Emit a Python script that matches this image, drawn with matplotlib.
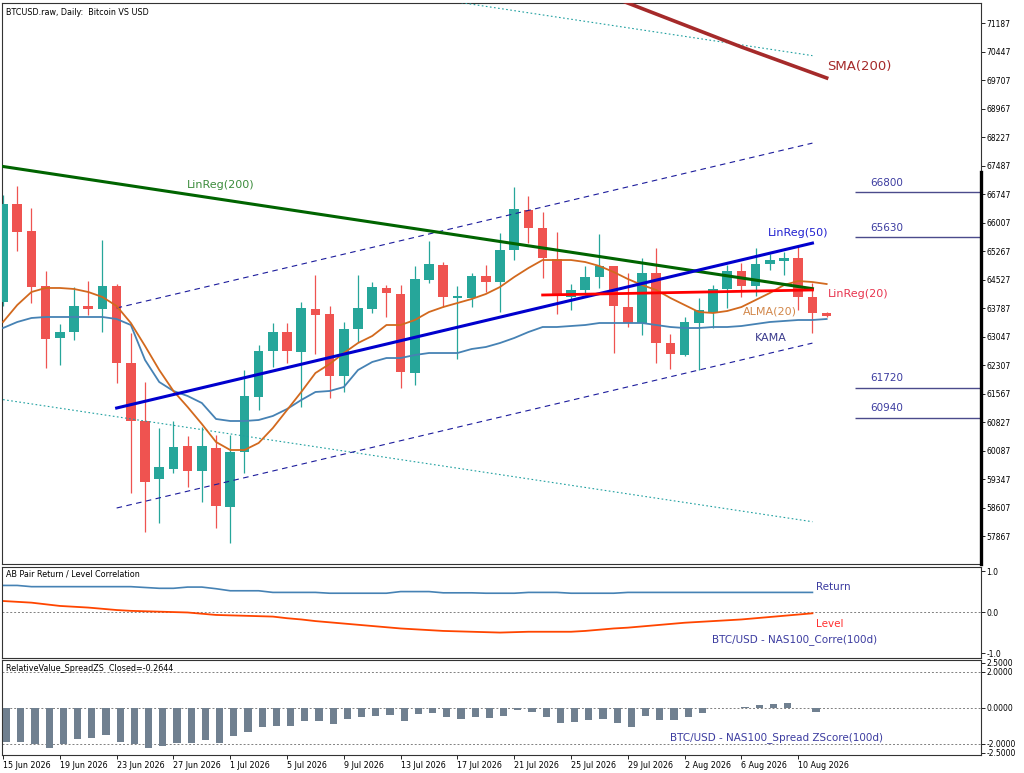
import matplotlib.pyplot as plt
import numpy as np

# daily candles, 15 Jun 2026 .. 12 Aug 2026
opens = [63944, 66488, 65787, 64359, 63010, 63165, 63840, 63762, 64359, 62360,
         60855, 59349, 59609, 60206, 59557, 60154, 58622, 60050, 61478, 62672,
         63165, 62646, 63762, 63633, 62023, 63243, 63762, 64308, 64152, 62101,
         64515, 64904, 64048, 64048, 64619, 64463, 65294, 66332, 65865, 65060,
         64074, 64256, 64593, 64878, 63814, 63399, 64697, 62880, 62568, 63399,
         63685, 64282, 64749, 64359, 64930, 65008, 65086, 64074, 63659]
highs = [66720, 66955, 66384, 64749, 63373, 64334, 64489, 65554, 64411, 63140,
         61867, 60673, 60855, 60466, 60699, 60492, 60492, 62179, 62828, 63399,
         63399, 63944, 64645, 63840, 63425, 64645, 64463, 64385, 64385, 64878,
         65528, 64982, 64359, 64697, 64904, 65735, 66930, 66696, 66280, 65761,
         64411, 64878, 65709, 64878, 64697, 65086, 65346, 63114, 63555, 64048,
         64385, 64904, 64956, 65346, 65190, 65242, 65398, 64437, 63685]
lows = [63840, 65268, 63918, 62231, 62300, 62958, 63607, 63165, 61841, 58986,
        57973, 58207, 59505, 59141, 58752, 58077, 57688, 59505, 61140, 62257,
        62360, 61218, 62594, 61452, 61608, 62906, 63659, 63555, 61711, 61789,
        64437, 63814, 62464, 63814, 64204, 63685, 65034, 65476, 64567, 63633,
        63737, 64126, 64308, 62620, 63295, 63088, 62360, 62205, 62540, 62179,
        63269, 63788, 64074, 64100, 64775, 64645, 63737, 63140, 63555]
closes = [66488, 65761, 64334, 62984, 63165, 63840, 63762, 64359, 62360, 60855,
          59271, 59661, 60180, 59557, 60206, 58648, 60050, 61504, 62672, 63165,
          62672, 63788, 63607, 62023, 63243, 63788, 64334, 64178, 62127, 64541,
          64930, 64074, 64100, 64619, 64463, 65294, 66358, 65865, 65086, 64126,
          64256, 64593, 64878, 63840, 63399, 64697, 62880, 62594, 63425, 63737,
          64282, 64749, 64359, 64930, 65034, 65086, 64074, 63659, 63581]

alma20 = [63425, 63866, 64204, 64308, 64308, 64282, 64204, 64074, 63840, 63399,
          62802, 62179, 61634, 61218, 60777, 60310, 60102, 60102, 60284, 60673,
          61140, 61608, 62101, 62335, 62620, 62880, 63062, 63347, 63347, 63477,
          63685, 63814, 63918, 64022, 64152, 64334, 64593, 64827, 65034, 65034,
          65034, 64982, 64878, 64723, 64541, 64385, 64256, 64048, 63866, 63685,
          63659, 63711, 63814, 63996, 64178, 64385, 64489, 64463, 64411]
kama = [63269, 63425, 63529, 63555, 63555, 63555, 63555, 63555, 63503, 63347,
        62438, 61867, 61634, 61504, 61322, 60907, 60855, 60855, 60881, 60985,
        61166, 61400, 61608, 61634, 61737, 62179, 62387, 62490, 62490, 62568,
        62620, 62620, 62620, 62724, 62776, 62880, 63010, 63165, 63295, 63295,
        63321, 63347, 63399, 63399, 63399, 63399, 63347, 63295, 63269, 63269,
        63295, 63295, 63321, 63373, 63425, 63451, 63477, 63477, 63503]

# straight indicator lines: candle index span and end values
linreg200_idx = [0, 57]
linreg200 = [67462, 64290]
linreg200_upper = [73510, 70340]
linreg200_lower = [61410, 58240]
linreg50_idx = [8, 57]
linreg50 = [61192, 65473]
linreg50_upper = [63788, 68069]
linreg50_lower = [58596, 62877]
linreg20_idx = [38, 57]
linreg20 = [64126, 64256]
sma200_idx = [42, 52, 58]
sma200 = [71990, 70564, 69760]

levels = [66800, 65630, 61720, 60940]

# lower panels (values up to 11 Aug)
corr_return = [0.65, 0.65, 0.62, 0.62, 0.62, 0.62, 0.62, 0.62, 0.62, 0.62,
               0.60, 0.58, 0.58, 0.61, 0.61, 0.57, 0.52, 0.52, 0.52, 0.48,
               0.48, 0.48, 0.48, 0.46, 0.46, 0.46, 0.46, 0.46, 0.50, 0.50,
               0.50, 0.47, 0.47, 0.47, 0.46, 0.46, 0.46, 0.48, 0.48, 0.48,
               0.46, 0.46, 0.46, 0.46, 0.48, 0.48, 0.48, 0.48, 0.48, 0.48,
               0.48, 0.48, 0.48, 0.48, 0.48, 0.48, 0.48, 0.48]
corr_level = [0.27, 0.25, 0.23, 0.19, 0.15, 0.13, 0.11, 0.08, 0.05, 0.03,
              0.02, 0.01, 0.00, -0.01, -0.04, -0.07, -0.08, -0.09, -0.10, -0.11,
              -0.15, -0.18, -0.22, -0.25, -0.28, -0.31, -0.34, -0.37, -0.40, -0.42,
              -0.44, -0.46, -0.47, -0.48, -0.49, -0.50, -0.49, -0.48, -0.48, -0.48,
              -0.48, -0.46, -0.43, -0.40, -0.38, -0.35, -0.32, -0.29, -0.26, -0.24,
              -0.22, -0.20, -0.18, -0.15, -0.12, -0.09, -0.06, -0.03]
spread_z = [-1.89, -1.89, -2.02, -2.22, -2.03, -1.74, -1.68, -1.53, -1.89, -2.03,
            -2.22, -2.11, -1.94, -1.94, -1.79, -1.94, -1.57, -1.35, -1.09, -1.00,
            -1.00, -0.76, -0.76, -0.89, -0.63, -0.53, -0.44, -0.41, -0.76, -0.35,
            -0.29, -0.50, -0.65, -0.53, -0.55, -0.44, -0.13, -0.26, -0.53, -0.87,
            -0.78, -0.68, -0.63, -0.87, -1.05, -0.44, -0.68, -0.68, -0.53, -0.28,
            -0.02, -0.02, 0.01, 0.15, 0.20, 0.28, -0.03, -0.2644]

date_labels = ["15 Jun 2026", "19 Jun 2026", "23 Jun 2026", "27 Jun 2026",
               "1 Jul 2026", "5 Jul 2026", "9 Jul 2026", "13 Jul 2026",
               "17 Jul 2026", "21 Jul 2026", "25 Jul 2026", "29 Jul 2026",
               "2 Aug 2026", "6 Aug 2026", "10 Aug 2026"]
price_ticks = [57867, 58607, 59347, 60087, 60827, 61567, 62307, 63047, 63787,
               64527, 65267, 66007, 66747, 67487, 68227, 68967, 69707, 70447, 71187]

UP = "#26A69A"
DOWN = "#EF5350"
NAVY_TXT = "#3C3CA0"


def style_axis(ax):
    ax.yaxis.tick_right()
    ax.tick_params(axis="y", which="both", labelsize=5.5, length=3, width=0.6,
                   pad=1, direction="out")
    ax.tick_params(axis="x", length=0, labelbottom=False)
    for sp in ax.spines.values():
        sp.set_linewidth(0.8)
        sp.set_color("#333333")


def draw_candles(ax):
    idx = np.arange(len(opens))
    o = np.array(opens)
    c = np.array(closes)
    colors = [UP if cc >= oo else DOWN for oo, cc in zip(o, c)]
    ax.vlines(idx, lows, highs, colors=colors, linewidth=0.9, zorder=2)
    body_low = np.minimum(o, c)
    body_h = np.maximum(np.abs(c - o), 18)
    ax.bar(idx, body_h, bottom=body_low, width=0.68, color=colors,
           linewidth=0, zorder=3)


def main():
    fig = plt.figure(figsize=(10.24, 7.73), dpi=100)
    left, width = 0.002, 0.956
    ax = fig.add_axes([left, 0.2704, width, 0.7257])
    ax2 = fig.add_axes([left, 0.1488, width, 0.1177], sharex=ax)
    ax3 = fig.add_axes([left, 0.0233, width, 0.1229], sharex=ax)

    # ---- main price panel ----
    draw_candles(ax)
    n = len(opens)
    ax.plot(linreg200_idx, linreg200_upper, color="#20A0A0", lw=0.8,
            dashes=(1.5, 2.2), zorder=4)
    ax.plot(linreg200_idx, linreg200_lower, color="#20A0A0", lw=0.8,
            dashes=(1.5, 2.2), zorder=4)
    ax.plot(linreg50_idx, linreg50_upper, color="#1C1C9C", lw=0.8,
            dashes=(5, 4), zorder=4)
    ax.plot(linreg50_idx, linreg50_lower, color="#1C1C9C", lw=0.8,
            dashes=(5, 4), zorder=4)
    ax.plot(range(n), kama, color="#4682B4", lw=1.3, zorder=5)
    ax.plot(range(n), alma20, color="#D2691E", lw=1.3, zorder=5)
    ax.plot(linreg200_idx, linreg200, color="#006400", lw=2.2, zorder=6)
    ax.plot(linreg50_idx, linreg50, color="#0000CD", lw=2.2, zorder=6)
    ax.plot(linreg20_idx, linreg20, color="#FF0000", lw=2.0, zorder=6)
    ax.plot(sma200_idx, sma200, color="#A52A2A", lw=2.6, zorder=6)

    for lv in levels:
        ax.hlines(lv, 60.0, 70, color="#4B4B8B", lw=1.0, zorder=4)
        ax.text(61.1, lv + 110, f"{lv}", color=NAVY_TXT, fontsize=7.5,
                ha="left", va="bottom")

    ax.text(15.35, 66981, "LinReg(200)", color="#3C8C3C", fontsize=8,
            ha="center", va="center")
    ax.text(56.0, 65735, "LinReg(50)", color="#2020D0", fontsize=8,
            ha="center", va="center")
    ax.text(60.2, 64152, "LinReg(20)", color="#E8344E", fontsize=8,
            ha="center", va="center")
    ax.text(54.0, 63685, "ALMA(20)", color="#D2874A", fontsize=8,
            ha="center", va="center")
    ax.text(54.1, 63010, "KAMA", color="#3A3A8C", fontsize=8,
            ha="center", va="center")
    ax.text(60.3, 70045, "SMA(200)", color="#A52A2A", fontsize=9.5,
            ha="center", va="center")
    ax.text(0.004, 0.983, "BTCUSD.raw, Daily:  Bitcoin VS USD", fontsize=5.8,
            transform=ax.transAxes, ha="left", va="center")

    ax.set_ylim(57143, 71706)
    ax.set_yticks(price_ticks)
    ax.set_yticklabels([str(t) for t in price_ticks])
    ax.set_xlim(-0.07, 68.87)
    style_axis(ax)
    ax.plot([1, 1], [0, 0.699], color="black", lw=2.4, transform=ax.transAxes,
            clip_on=False, zorder=10)

    # ---- correlation panel ----
    m = len(corr_return)
    ax2.axhline(0, color="#808080", lw=0.7, dashes=(2, 2))
    ax2.plot(range(m), corr_return, color="#4682B4", lw=1.2)
    ax2.plot(range(m), corr_level, color="#FF4500", lw=1.3)
    ax2.text(0.004, 0.92, "AB Pair Return / Level Correlation", fontsize=5.8,
             transform=ax2.transAxes, ha="left", va="center")
    ax2.text(57.25, 0.61, "Return", color=NAVY_TXT, fontsize=7.5, va="center")
    ax2.text(57.25, -0.29, "Level", color="#FF3030", fontsize=7.5, va="center")
    ax2.text(49.9, -0.68, "BTC/USD - NAS100_Corre(100d)", color=NAVY_TXT,
             fontsize=7.5, va="center")
    ax2.set_ylim(-1.12, 1.10)
    ax2.set_yticks([-1.0, 0.0, 1.0])
    ax2.set_yticklabels(["-1.0", "0.0", "1.0"])
    style_axis(ax2)

    # ---- spread z-score panel ----
    for lv in [2.0, 0.0, -2.0]:
        ax3.axhline(lv, color="#808080", lw=0.7, dashes=(2, 2))
    ax3.bar(np.arange(len(spread_z)), spread_z, width=0.5, align="edge",
            color="#708090", linewidth=0, zorder=3)
    ax3.text(0.004, 0.915, "RelativeValue_SpreadZS  Closed=-0.2644", fontsize=5.8,
             transform=ax3.transAxes, ha="left", va="center")
    ax3.text(47.0, -1.68, "BTC/USD - NAS100_Spread ZScore(100d)", color=NAVY_TXT,
             fontsize=7.5, va="center")
    ax3.set_ylim(-2.63, 2.65)
    ax3.set_yticks([-2.5, -2.0, 0.0, 2.0, 2.5])
    ax3.set_yticklabels(["-2.5000", "-2.0000", "0.0000", "2.0000", "2.5000"])
    style_axis(ax3)

    ax3.set_xticks(np.arange(0, 4 * len(date_labels), 4))
    ax3.set_xticklabels(date_labels, ha="left")
    ax3.tick_params(axis="x", labelbottom=True, labelsize=5.8, length=3,
                    width=0.6, pad=1)
    for lab in ax3.get_xticklabels():
        lab.set_horizontalalignment("left")

    fig.savefig("out.png", dpi=100)


if __name__ == "__main__":
    main()
